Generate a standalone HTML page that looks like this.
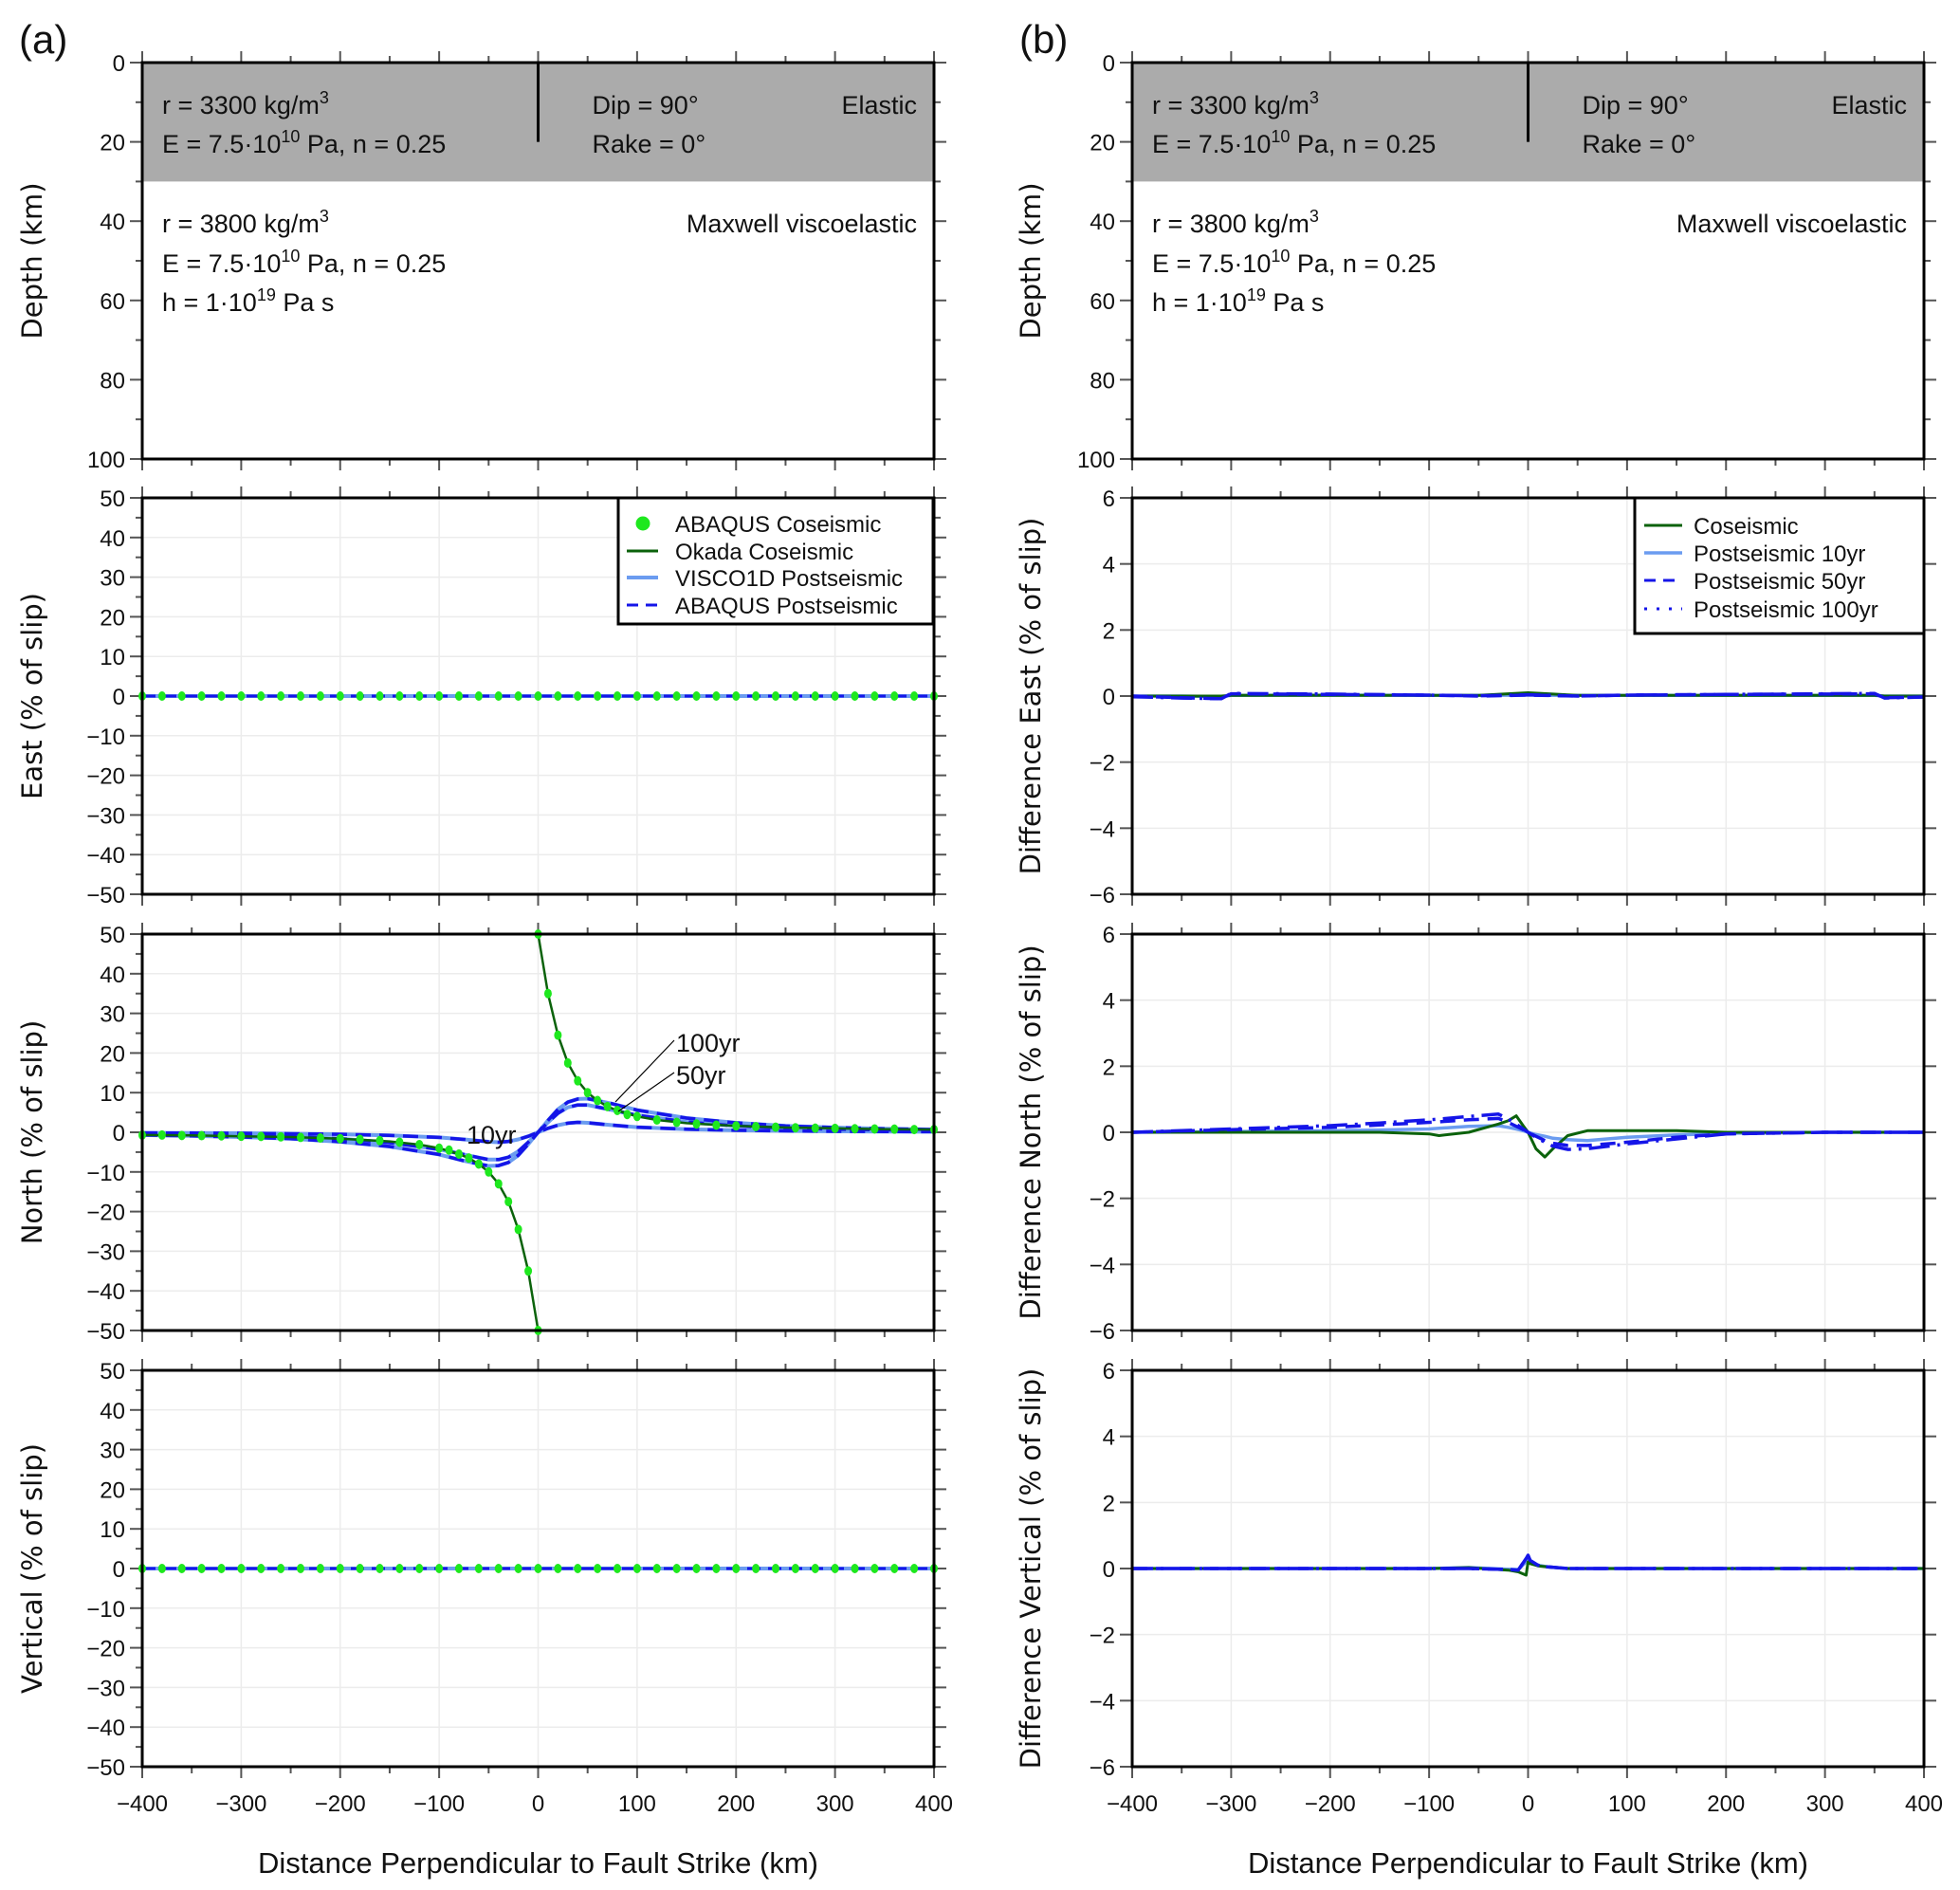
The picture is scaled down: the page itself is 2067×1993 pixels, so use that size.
<!DOCTYPE html>
<html><head><meta charset="utf-8">
<style>
html,body{margin:0;padding:0;background:#fff;}
svg{display:block;}
text{font-family:"Liberation Sans",sans-serif;fill:#111;}
.tk{font-size:24px;}
.ttl{font-family:"DejaVu Sans",sans-serif;font-size:29px;}
.ann{font-size:27px;}
.lg{font-size:24px;}
.xt{font-size:31px;}
.pl{font-size:42px;}
</style></head>
<body>
<svg id="fig" width="2067" height="1993" viewBox="0 0 2067 1993" xmlns="http://www.w3.org/2000/svg"></svg>
<script>
// ---------- data ----------
const xTicks = [-400,-300,-200,-100,0,100,200,300,400];
const okX = [-400,-350,-300,-250,-200,-150,-120,-100,-80,-70,-60,-50,-40,-30,-20,-10,0,0,10,20,30,40,50,60,70,80,100,120,150,200,250,300,350,400];
const okN = [-0.7,-0.8,-1.0,-1.2,-1.6,-2.3,-3.1,-4.0,-5.5,-6.5,-8.0,-10,-13,-17.5,-24.5,-35,-50,50,35,24.5,17.5,13,10,8,6.5,5.5,4.0,3.1,2.3,1.6,1.2,1.0,0.8,0.7];
const abqX = [-400,-380,-360,-340,-320,-300,-280,-260,-240,-220,-200,-180,-160,-140,-120,-100,-90,-80,-70,-60,-50,-40,-30,-20,-10,0,0,10,20,30,40,50,60,70,80,90,100,120,140,160,180,200,220,240,260,280,300,320,340,360,380,400];
const abqN = [-0.7,-0.7,-0.8,-0.85,-0.9,-1.0,-1.05,-1.15,-1.3,-1.45,-1.6,-1.8,-2.1,-2.5,-3.1,-4.0,-4.5,-5.5,-6.5,-8,-10,-13,-17.5,-24.5,-35,-50,50,35,24.5,17.5,13,10,8,6.5,5.5,4.5,4.0,3.1,2.5,2.1,1.8,1.6,1.45,1.3,1.15,1.05,1.0,0.9,0.85,0.8,0.7,0.7];
const postX = [-400,-350,-300,-250,-200,-150,-100,-75,-50,-40,-30,-20,-10,0,10,20,30,40,50,75,100,150,200,250,300,350,400];
const p10 = [-0.15,-0.2,-0.25,-0.35,-0.5,-0.8,-1.3,-1.8,-2.4,-2.5,-2.3,-1.8,-1.0,0,1.0,1.8,2.3,2.5,2.4,1.8,1.3,0.8,0.5,0.35,0.25,0.2,0.15];
const p50 = [-0.5,-0.6,-0.8,-1.1,-1.6,-2.6,-4.3,-5.6,-6.9,-6.9,-6.3,-4.8,-2.5,0,2.5,4.8,6.3,6.9,6.9,5.6,4.3,2.6,1.6,1.1,0.8,0.6,0.5];
const p100 = [-0.7,-0.9,-1.2,-1.6,-2.4,-3.6,-5.6,-7.2,-8.5,-8.4,-7.6,-5.8,-3.0,0,3.0,5.8,7.6,8.4,8.5,7.2,5.6,3.6,2.4,1.6,1.2,0.9,0.7];
const flatX = [-400,-380,-360,-340,-320,-300,-280,-260,-240,-220,-200,-180,-160,-140,-120,-100,-80,-60,-40,-20,0,20,40,60,80,100,120,140,160,180,200,220,240,260,280,300,320,340,360,380,400];
const flatV = [0,0,0,0,0,0,0,0,0,0,0,0,0,0,0,0,0,0,0,0,0,0,0,0,0,0,0,0,0,0,0,0,0,0,0,0,0,0,0,0,0];
const lineX = [-400,400];
const lineV = [0,0];
// differences
const dEX = [-400,-350,-310,-300,-200,-100,-50,0,50,100,200,300,350,360,400];
const dECo = [0,0,0,0.02,0.02,0.02,0.02,0.1,0.02,0.02,0.02,0.02,0.02,0,0];
const dE10 = [0,0,-0.02,0.02,0.03,0.02,0.02,0.03,0.02,0.02,0.02,0.02,0.02,0,0];
const dE50 = [0,-0.05,-0.08,0.07,0.05,0.03,0.0,0.03,0.0,0.03,0.05,0.06,0.07,-0.05,-0.03];
const dE100 = [-0.02,-0.06,-0.08,0.08,0.06,0.03,0.01,0.04,0.0,0.03,0.05,0.07,0.08,-0.06,-0.03];
const dNX = [-400,-300,-200,-150,-100,-90,-60,-30,-20,-12,-5,0,8,17,25,40,60,100,150,200,300,400];
const dNCo = [0,0,0,0,-0.05,-0.1,0,0.25,0.35,0.5,0.2,0,-0.5,-0.75,-0.5,-0.1,0.05,0.05,0.05,0,0,0];
const dN10 = [0,0.02,0.05,0.07,0.1,0.12,0.18,0.2,0.15,0.1,0.05,0,-0.07,-0.12,-0.18,-0.22,-0.25,-0.15,-0.08,-0.03,0,0];
const dN50 = [0,0.08,0.15,0.22,0.3,0.32,0.38,0.42,0.3,0.18,0.08,0,-0.12,-0.25,-0.33,-0.4,-0.4,-0.3,-0.15,-0.05,0,0];
const dN100 = [0,0.1,0.2,0.28,0.38,0.4,0.48,0.55,0.4,0.25,0.1,0,-0.15,-0.3,-0.42,-0.52,-0.5,-0.35,-0.2,-0.05,0,0];
const dVX = [-400,-100,-60,-20,-10,-2,0,2,10,20,40,400];
const dVCo = [0,0,0.03,-0.05,-0.1,-0.2,0.2,0.15,0.08,0.05,0,0];
const dV10 = [0,0,0.03,-0.02,-0.03,0.2,0.3,0.2,0.1,0.05,0,0];
const dV50 = [0,0,0,-0.03,-0.05,0.3,0.4,0.25,0.1,0.05,0,0];
const dV100 = [0,0,0,-0.03,-0.05,0.3,0.4,0.25,0.1,0.05,0,0];

// ---------- layout ----------
const NS = "http://www.w3.org/2000/svg";
const svg = document.getElementById('fig');
const colX = [[150,985],[1194,2029]];
const rowY = [66,525,985,1445];
const PH = 418;
const C = {dk:'#0b620b', gr:'#1ee81e', lb:'#6b9cf0', bl:'#1515e8'};

function el(tag, attrs, parent){
  const e = document.createElementNS(NS, tag);
  for (const k in attrs) e.setAttribute(k, attrs[k]);
  (parent||svg).appendChild(e);
  return e;
}
function txt(s, x, y, cls, anchor, parent){
  const t = el('text', {x:x, y:y, class:cls, 'text-anchor':anchor||'start'}, parent);
  t.textContent = s;
  return t;
}

function makeAxes(col,row,ymin,ymax,yMajor,yMinor,grid,invert){
  const x0=colX[col][0], x1=colX[col][1], y0=rowY[row], y1=y0+PH;
  const sx = v => x0 + (v+400)/800*(x1-x0);
  const sy = invert ? (v => y0 + (v - ymin)/(ymax-ymin)*PH) : (v => y0 + (ymax - v)/(ymax-ymin)*PH);
  const g = el('g', {});
  
  
  if (grid){
    for (let v=-400; v<=400; v+=100) el('line',{x1:sx(v),x2:sx(v),y1:y0,y2:y1,stroke:'#ececec','stroke-width':1.5},g);
    for (let v=ymin; v<=ymax+1e-9; v+=yMajor) el('line',{x1:x0,x2:x1,y1:sy(v),y2:sy(v),stroke:'#ececec','stroke-width':1.5},g);
  }
  for (let v=-400; v<=400; v+=50){
    const L = (v%100===0)?12:7;
    el('line',{x1:sx(v),x2:sx(v),y1:y0,y2:y0-L,stroke:'#555','stroke-width':2},g);
    el('line',{x1:sx(v),x2:sx(v),y1:y1,y2:y1+L,stroke:'#555','stroke-width':2},g);
  }
  for (let v=ymin; v<=ymax+1e-9; v+=yMinor){
    const maj = Math.abs((v-ymin)/yMajor - Math.round((v-ymin)/yMajor))<1e-6;
    const L = maj?13:7;
    el('line',{x1:x0,x2:x0-L,y1:sy(v),y2:sy(v),stroke:'#555','stroke-width':2},g);
    el('line',{x1:x1,x2:x1+L,y1:sy(v),y2:sy(v),stroke:'#555','stroke-width':2},g);
    if (maj){
      const lab = String(v).replace('-','\u2212');
      const t = txt(lab, x0-18, sy(v)+9, 'tk', 'end', g);
      
      
    }
  }
  return {g, sx, sy, x0, x1, y0, y1};
}
function frame(ax){
  const r = el('rect',{x:ax.x0,y:ax.y0,width:ax.x1-ax.x0,height:ax.y1-ax.y0,fill:'none',stroke:'#000','stroke-width':3},ax.g);
  
  
}
function pathOf(ax, xs, ys){
  let d='';
  for (let i=0;i<xs.length;i++){
    const brk = (i===0) || (xs[i]===xs[i-1]);
    d += (brk?'M':'L') + ax.sx(xs[i]).toFixed(1)+','+ax.sy(ys[i]).toFixed(1);
  }
  return d;
}
function series(ax, xs, ys, stroke, w, dash, name){
  const p = el('path',{d:pathOf(ax,xs,ys),fill:'none',stroke:stroke,'stroke-width':w,'stroke-dasharray':dash||'none','stroke-linejoin':'round'},ax.g);
  
  
  return p;
}
function dots(ax, xs, ys, name){
  for (let i=0;i<xs.length;i++){
    const c = el('ellipse',{cx:ax.sx(xs[i]),cy:ax.sy(ys[i]),rx:4,ry:5,fill:C.gr},ax.g);
    
    
  }
}
function yTitle(s, x, cy){
  const t = el('text',{x:0,y:0,class:'ttl','text-anchor':'middle',transform:`translate(${x},${cy}) rotate(-90)`});
  t.textContent = s;
  
  
}

// ---------- top panels (model) ----------
for (let col=0; col<2; col++){
  const ax = makeAxes(col,0,0,100,20,10,false,true);
  const sy = ax.sy;
  const band = el('rect',{x:ax.x0,y:ax.y0,width:ax.x1-ax.x0,height:sy(30)-ax.y0,fill:'#ababab'},ax.g);
  
  
  const fl = el('line',{x1:ax.sx(0),x2:ax.sx(0),y1:ax.y0,y2:sy(20),stroke:'#000','stroke-width':3},ax.g);
  
  
  const tx = ax.x0+21, rx = ax.x1-18;
  const T = ax.g;
  let t;
  t = el('text',{x:tx,y:120,class:'ann'},T); t.innerHTML='r = 3300 kg/m<tspan dy="-11" font-size="18">3</tspan>';
  t = el('text',{x:tx,y:161,class:'ann'},T); t.innerHTML='E = 7.5·10<tspan dy="-11" font-size="18">10</tspan><tspan dy="11"> Pa, n = 0.25</tspan>';
  txt('Dip = 90°', ax.sx(0)+57, 120, 'ann', 'start', T);
  txt('Rake = 0°', ax.sx(0)+57, 161, 'ann', 'start', T);
  txt('Elastic', rx, 120, 'ann', 'end', T);
  t = el('text',{x:tx,y:245,class:'ann'},T); t.innerHTML='r = 3800 kg/m<tspan dy="-11" font-size="18">3</tspan>';
  t = el('text',{x:tx,y:287,class:'ann'},T); t.innerHTML='E =  7.5·10<tspan dy="-11" font-size="18">10</tspan><tspan dy="11"> Pa, n = 0.25</tspan>';
  t = el('text',{x:tx,y:328,class:'ann'},T); t.innerHTML='h = 1·10<tspan dy="-11" font-size="18">19</tspan><tspan dy="11"> Pa s</tspan>';
  txt('Maxwell viscoelastic', rx, 245, 'ann', 'end', T);
  frame(ax);
}

// ---------- left column ----------
const aE = makeAxes(0,1,-50,50,10,5,true);
series(aE, lineX, lineV, C.dk, 2.5, null, 'okada-east');
series(aE, lineX, lineV, C.lb, 4, null, 'visco1d-east');
series(aE, lineX, lineV, C.bl, 3, '14 8', 'abaqus-post-east');
dots(aE, flatX, flatV, 'abaqus-coseismic-east-point');
frame(aE);

const aN = makeAxes(0,2,-50,50,10,5,true);
series(aN, postX, p10, C.lb, 4, null, 'visco1d-north-10yr');
series(aN, postX, p50, C.lb, 4, null, 'visco1d-north-50yr');
series(aN, postX, p100, C.lb, 4, null, 'visco1d-north-100yr');
series(aN, postX, p10, C.bl, 3.5, '16 9', 'abaqus-north-10yr');
series(aN, postX, p50, C.bl, 3.5, '16 9', 'abaqus-north-50yr');
series(aN, postX, p100, C.bl, 3.5, '16 9', 'abaqus-north-100yr');
series(aN, okX, okN, C.dk, 2.5, null, 'okada-north');
dots(aN, abqX, abqN, 'abaqus-coseismic-north-point');
frame(aN);
txt('10yr', 492, 1206, 'ann', 'start', aN.g);
txt('100yr', 713, 1109, 'ann', 'start', aN.g);
txt('50yr', 713, 1143, 'ann', 'start', aN.g);
el('line',{x1:711,y1:1097,x2:649,y2:1162,stroke:'#000','stroke-width':1.2},aN.g);
el('line',{x1:711,y1:1131,x2:652,y2:1172,stroke:'#000','stroke-width':1.2},aN.g);

const aV = makeAxes(0,3,-50,50,10,5,true);
series(aV, lineX, lineV, C.dk, 2.5, null, 'okada-vertical');
series(aV, lineX, lineV, C.lb, 4, null, 'visco1d-vertical');
series(aV, lineX, lineV, C.bl, 3, '14 8', 'abaqus-post-vertical');
dots(aV, flatX, flatV, 'abaqus-coseismic-vertical-point');
frame(aV);

// ---------- right column ----------
function diffPanel(row, xs, co, a10, a50, a100, nm){
  const ax = makeAxes(1,row,-6,6,2,2,true);
  series(ax, xs, a10, C.lb, 3.5, null, 'diff-'+nm+'-10yr');
  series(ax, xs, co, C.dk, 3, null, 'diff-'+nm+'-coseismic');
  series(ax, xs, a50, C.bl, 3.5, '16 9', 'diff-'+nm+'-50yr');
  series(ax, xs, a100, C.bl, 3.5, '22 8 3 8', 'diff-'+nm+'-100yr');
  frame(ax);
  return ax;
}
diffPanel(1, dEX, dECo, dE10, dE50, dE100, 'east');
diffPanel(2, dNX, dNCo, dN10, dN50, dN100, 'north');
diffPanel(3, dVX, dVCo, dV10, dV50, dV100, 'vertical');

// ---------- legends ----------
function legend(x0,y0,x1,y1,entries,name){
  const g = el('g',{});
  
  
  el('rect',{x:x0,y:y0,width:x1-x0,height:y1-y0,fill:'#fff',stroke:'#000','stroke-width':3},g);
  entries.forEach(e=>{
    if (e.dot) el('circle',{cx:x0+26,cy:e.y,r:7.5,fill:C.gr},g);
    else el('line',{x1:e.sx0,x2:e.sx1,y1:e.y,y2:e.y,stroke:e.c,'stroke-width':e.w,'stroke-dasharray':e.d||'none'},g);
    const t = txt(e.t, e.tx, e.y+9, 'lg', 'start', g);
    
    
  });
}
legend(652,525,984,658,[
  {dot:true,y:552,t:'ABAQUS Coseismic',tx:712},
  {y:581,sx0:661,sx1:694,c:C.dk,w:3,t:'Okada Coseismic',tx:712},
  {y:609,sx0:661,sx1:694,c:C.lb,w:4,t:'VISCO1D Postseismic',tx:712},
  {y:638,sx0:661,sx1:694,c:C.bl,w:3,d:'12 8',t:'ABAQUS Postseismic',tx:712}
],'legend-left');
legend(1724,525,2029,668,[
  {y:554,sx0:1734,sx1:1774,c:C.dk,w:3,t:'Coseismic',tx:1786},
  {y:583,sx0:1734,sx1:1774,c:C.lb,w:3.5,t:'Postseismic 10yr',tx:1786},
  {y:612,sx0:1734,sx1:1774,c:C.bl,w:3,d:'12 8',t:'Postseismic 50yr',tx:1786},
  {y:642,sx0:1734,sx1:1774,c:C.bl,w:3,d:'3 10',t:'Postseismic 100yr',tx:1786}
],'legend-right');

// ---------- x tick labels & titles ----------
for (let col=0; col<2; col++){
  const x0=colX[col][0], x1=colX[col][1];
  xTicks.forEach(v=>{
    const t = txt(String(v).replace('-','\u2212'), x0+(v+400)/800*(x1-x0), 1910, 'tk', 'middle');
    
    
  });
  const t = txt('Distance Perpendicular to Fault Strike (km)', (x0+x1)/2, 1975, 'xt', 'middle');
  
  
}
yTitle('Depth (km)', 44, 275);
yTitle('East (% of slip)', 44, 734);
yTitle('North (% of slip)', 44, 1194);
yTitle('Vertical (% of slip)', 44, 1654);
yTitle('Depth (km)', 1097, 275);
yTitle('Difference East (% of slip)', 1097, 734);
yTitle('Difference North (% of slip)', 1097, 1194);
yTitle('Difference Vertical (% of slip)', 1097, 1654);
let pl = txt('(a)', 20, 56, 'pl', 'start');
 
pl = txt('(b)', 1075, 56, 'pl', 'start');
 
</script>
</body></html>
